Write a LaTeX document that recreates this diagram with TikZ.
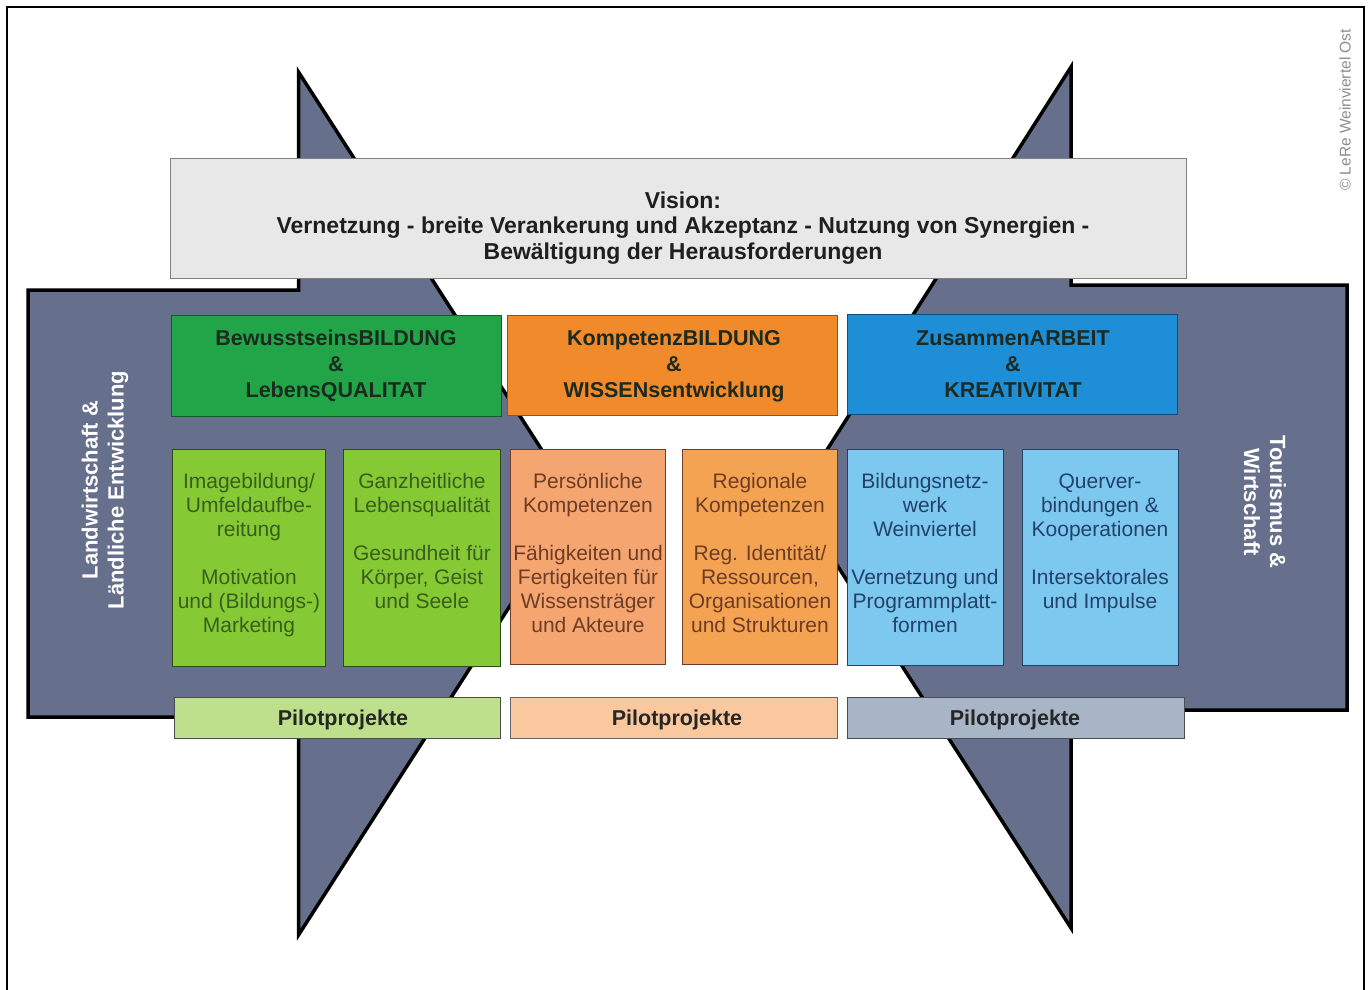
\documentclass[tikz,border=0pt]{standalone}
\usepackage{fontspec}
\setmainfont{Liberation Sans}
\definecolor{shapegray}{HTML}{66708C}
\definecolor{hgreen}{HTML}{22A548}
\definecolor{horange}{HTML}{F08A2A}
\definecolor{hblue}{HTML}{1E8ED6}
\definecolor{lgreen}{HTML}{85C934}
\definecolor{lorangeA}{HTML}{F5A570}
\definecolor{lorangeB}{HTML}{F4A352}
\definecolor{lblue}{HTML}{7CC8EF}
\definecolor{pgreen}{HTML}{BEE08C}
\definecolor{porange}{HTML}{F9C89E}
\definecolor{pblue}{HTML}{A8B5C6}
\definecolor{visfill}{HTML}{E8E8E8}
\definecolor{gtext}{HTML}{3A5E1E}
\definecolor{otext}{HTML}{6E3D26}
\definecolor{btext}{HTML}{23416A}
\definecolor{htext}{HTML}{1C2A20}
\begin{document}
\begin{tikzpicture}[x=1pt,y=-1pt,
  bigshape/.style={fill=shapegray, draw=black, line width=3.5pt, line join=miter},
  boxbase/.style={draw, line width=1.3pt, inner sep=0pt, anchor=north west},
  txt/.style={inner sep=0pt, align=center},
  lowtext/.style={txt, anchor=north, font=\fontsize{21}{24}\selectfont},
  headtext/.style={txt, anchor=north, font=\bfseries\fontsize{21.5}{26}\selectfont, text=htext},
  pilottext/.style={txt, anchor=base, font=\bfseries\fontsize{21.5}{26}\selectfont, text=black!85},
  sidetext/.style={txt, text=white, font=\bfseries\fontsize{22}{26}\selectfont}
]
\useasboundingbox (0,0) rectangle (1370,990);
% outer frame
\draw[line width=1.5pt] (7,990) -- (7,7) -- (1364,7) -- (1364,990);

% the two grey arrow shapes
\path[bigshape] (28,290) -- (298.5,290) -- (298.5,72) -- (576,503) -- (298.5,935) -- (298.5,717) -- (28,717) -- cycle;
\path[bigshape] (1347,285) -- (1071,285) -- (1071,67) -- (795,500) -- (1071,928) -- (1071,710) -- (1347,710) -- cycle;

% vision box
\node[boxbase, draw=black!50, fill=visfill, minimum width=1016pt, minimum height=120pt] (vis) at (170,158) {};
\node[txt, anchor=north, font=\bfseries\fontsize{23}{25.7}\selectfont, text=black!88] (vist) at (683,188)
  {\rule{0pt}{20pt}Vision:\\Vernetzung - breite Verankerung und Akzeptanz - Nutzung von Synergien -\\Bewältigung der Herausforderungen};

% header boxes
\node[boxbase, draw=hgreen!55!black, fill=hgreen, minimum width=330pt, minimum height=101pt] (h1) at (171,315) {};
\node[boxbase, draw=horange!60!black, fill=horange, minimum width=330pt, minimum height=100pt] (h2) at (507,315) {};
\node[boxbase, draw=hblue!55!black, fill=hblue, minimum width=330pt, minimum height=100pt] (h3) at (847,314) {};
\node[headtext] (h1t) at (336,325.5) {\rule{0pt}{20pt}BewusstseinsBILDUNG\\\&\\LebensQUALITAT};
\node[headtext] (h2t) at (674,325.5) {\rule{0pt}{20pt}KompetenzBILDUNG\\\&\\WISSENsentwicklung};
\node[headtext] (h3t) at (1013,325.5) {\rule{0pt}{20pt}ZusammenARBEIT\\\&\\KREATIVITAT};

% lower boxes
\node[boxbase, draw=gtext!80!black, fill=lgreen, minimum width=153pt, minimum height=217pt] (b1) at (172,449) {};
\node[boxbase, draw=gtext!80!black, fill=lgreen, minimum width=157pt, minimum height=217pt] (b2) at (343,449) {};
\node[boxbase, draw=otext, fill=lorangeA, minimum width=155pt, minimum height=215pt] (b3) at (510,449) {};
\node[boxbase, draw=otext, fill=lorangeB, minimum width=155pt, minimum height=215pt] (b4) at (682,449) {};
\node[boxbase, draw=btext, fill=lblue, minimum width=156pt, minimum height=216pt] (b5) at (847,449) {};
\node[boxbase, draw=btext, fill=lblue, minimum width=156pt, minimum height=216pt] (b6) at (1022,449) {};

\node[lowtext, text=gtext] (b1t) at (249,471.5) {\rule{0pt}{17pt}Imagebildung/\\Umfeldaufbe-\\reitung\\[24pt]Motivation\\und (Bildungs-)\\Marketing};
\node[lowtext, text=gtext] (b2t) at (422,471.5) {\rule{0pt}{17pt}Ganzheitliche\\Lebensqualität\\[24pt]Gesundheit für\\Körper, Geist\\und Seele};
\node[lowtext, text=otext] (b3t) at (588,471.5) {\rule{0pt}{17pt}Persönliche\\Kompetenzen\\[24pt]Fähigkeiten und\\Fertigkeiten für\\Wissensträger\\und Akteure};
\node[lowtext, text=otext] (b4t) at (760,471.5) {\rule{0pt}{17pt}Regionale\\Kompetenzen\\[24pt]Reg. Identität/\\Ressourcen,\\Organisationen\\und Strukturen};
\node[lowtext, text=btext] (b5t) at (925,471.5) {\rule{0pt}{17pt}Bildungsnetz-\\werk\\Weinviertel\\[24pt]Vernetzung und\\Programmplatt-\\formen};
\node[lowtext, text=btext] (b6t) at (1100,471.5) {\rule{0pt}{17pt}Querver-\\bindungen \&\\Kooperationen\\[24pt]Intersektorales\\und Impulse};

% pilot boxes
\node[boxbase, draw=black!70, fill=pgreen, minimum width=326pt, minimum height=41pt] (p1) at (174,697) {};
\node[boxbase, draw=black!60, fill=porange, minimum width=327pt, minimum height=41pt] (p2) at (510,697) {};
\node[boxbase, draw=black!70, fill=pblue, minimum width=337pt, minimum height=41pt] (p3) at (847,697) {};
\node[pilottext] (p1t) at (343,725) {Pilotprojekte};
\node[pilottext] (p2t) at (677,725) {Pilotprojekte};
\node[pilottext] (p3t) at (1015,725) {Pilotprojekte};

% side labels
\node[sidetext, rotate=90] (left) at (105,490) {Landwirtschaft \&\\Ländliche Entwicklung};
\node[sidetext, rotate=-90] (right) at (1265,502) {Tourismus \&\\Wirtschaft};

% copyright
\node[txt, rotate=90, text=black!45, font=\fontsize{15.5}{18}\selectfont] (copy) at (1345,110) {© LeRe Weinviertel Ost};
\end{tikzpicture}
\end{document}
